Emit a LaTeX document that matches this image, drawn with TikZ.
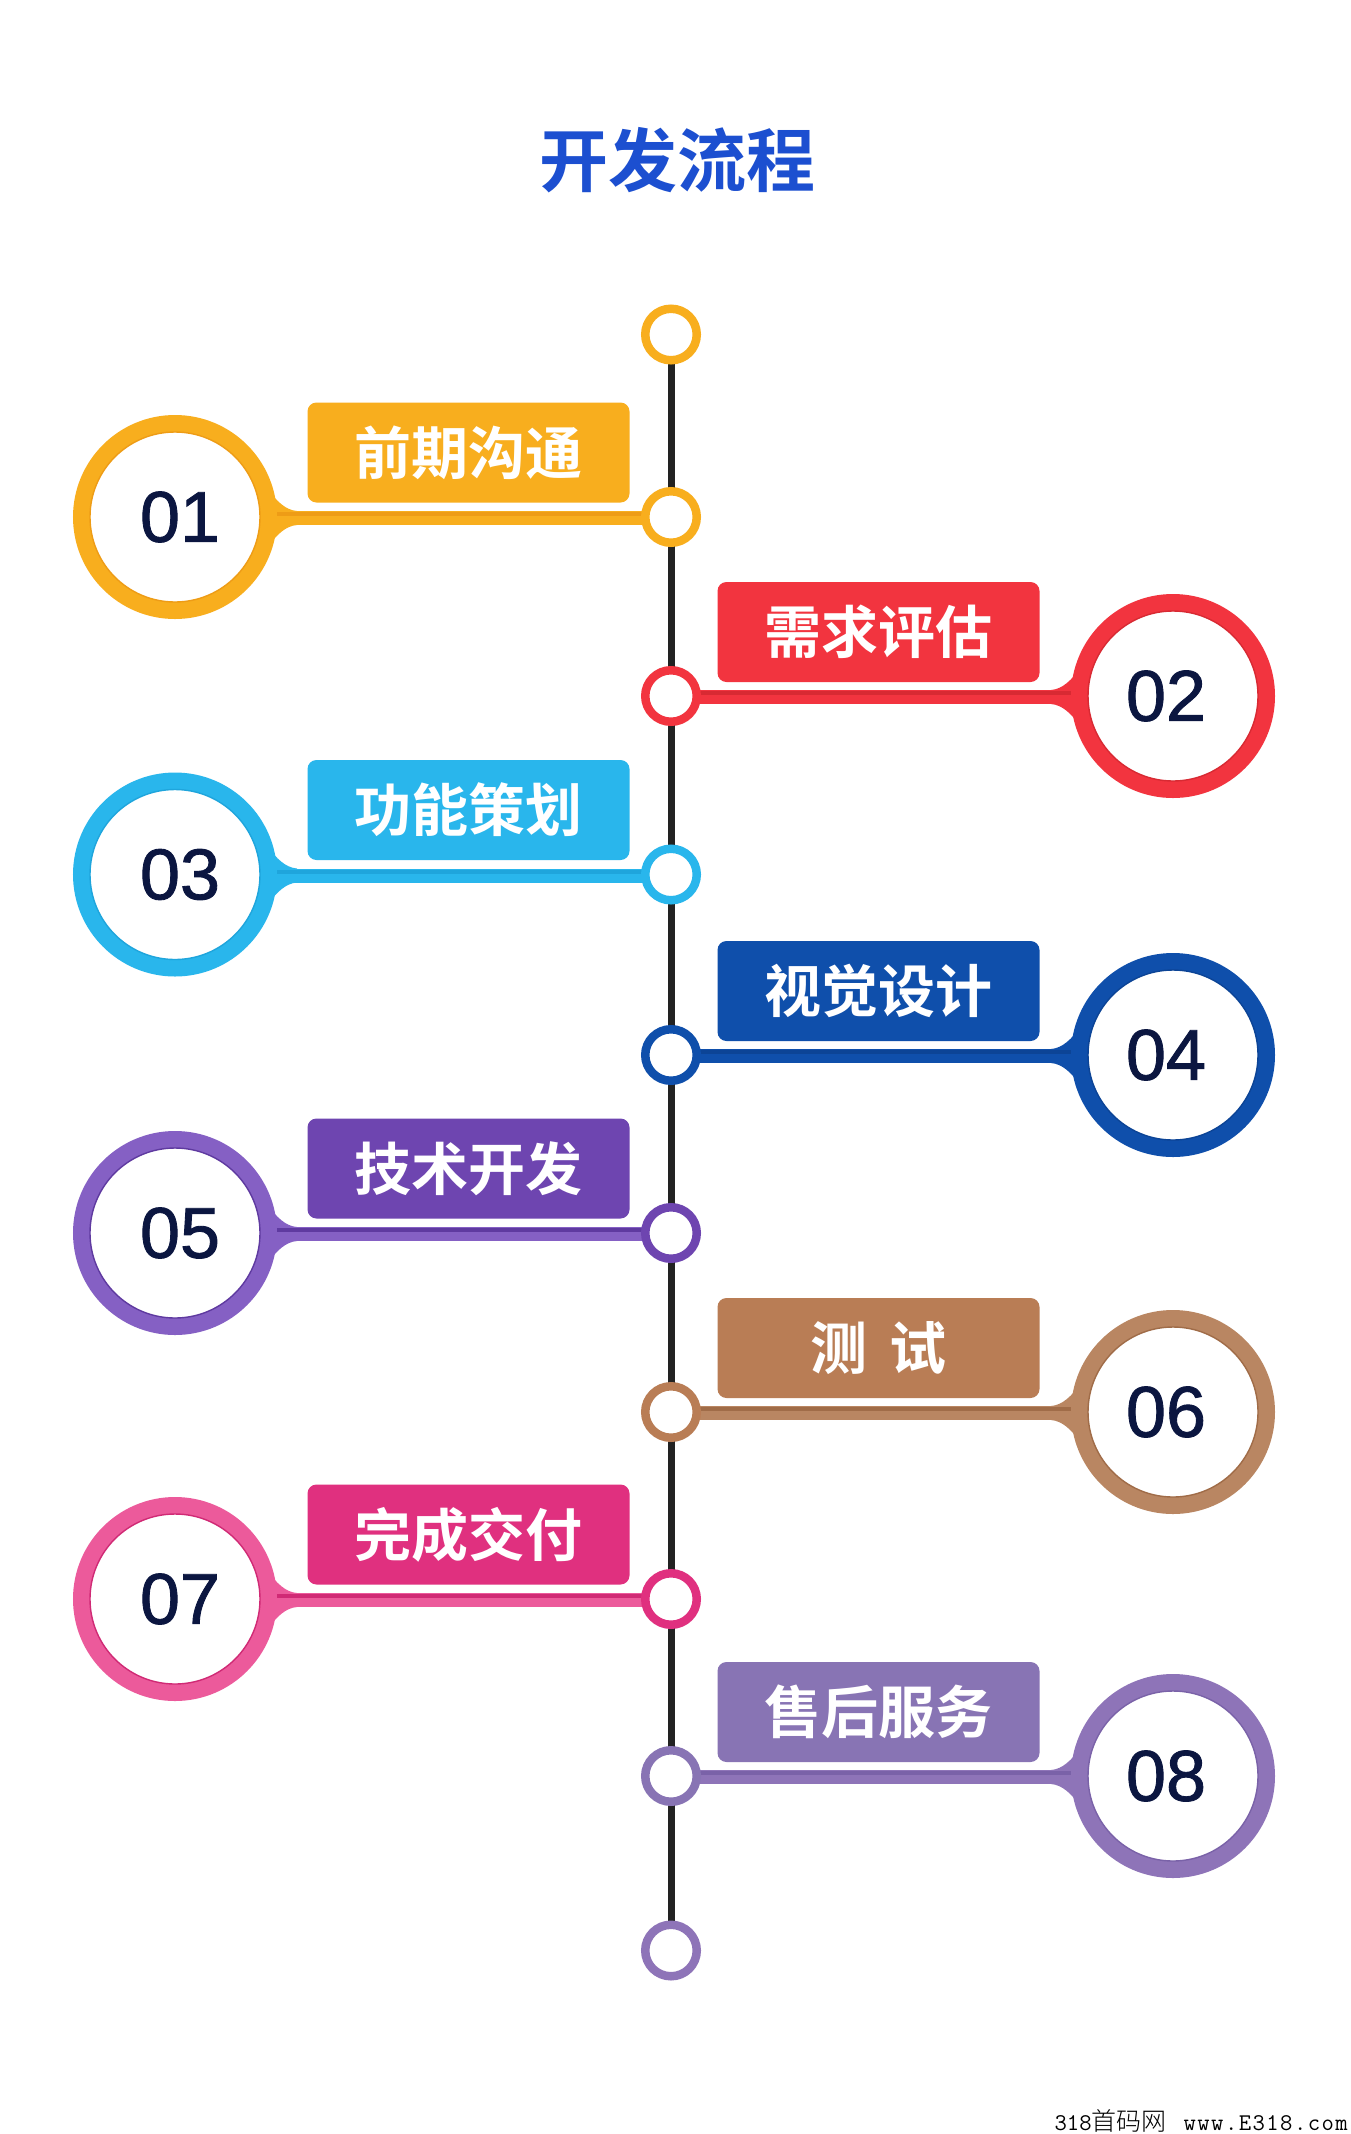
\documentclass[tikz,border=0pt]{standalone}
\usepackage{fontspec}
\usetikzlibrary{backgrounds,calc}
\setmainfont{Liberation Sans}
\newfontfamily\cjkb{Noto Sans CJK SC Bold}
\newfontfamily\cjkthin{Noto Sans CJK SC Light}
\newfontfamily\wmmono{Latin Modern Mono}
\newfontfamily\wmmonospaced[LetterSpace=6]{Latin Modern Mono}
\newfontfamily\numfont[FakeBold=1.2]{Liberation Sans}
\definecolor{cA}{HTML}{F8AE1E}\definecolor{cAd}{HTML}{EE9C16}
\definecolor{cB}{HTML}{F2343F}\definecolor{cBd}{HTML}{D82A33}
\definecolor{cC}{HTML}{29B6EC}\definecolor{cCd}{HTML}{1FA5DC}
\definecolor{cD}{HTML}{0F4FAB}\definecolor{cDd}{HTML}{0C4496}
\definecolor{cE}{HTML}{8560C4}\definecolor{cEl}{HTML}{6E45B0}\definecolor{cEd}{HTML}{5F3AA0}
\definecolor{cF}{HTML}{B98662}\definecolor{cFl}{HTML}{B97D55}\definecolor{cFd}{HTML}{A06C48}
\definecolor{cG}{HTML}{EC5A9B}\definecolor{cGl}{HTML}{E0307F}\definecolor{cGd}{HTML}{D02A75}
\definecolor{cH}{HTML}{8E74B8}\definecolor{cHl}{HTML}{8874B4}\definecolor{cHd}{HTML}{7A62A8}
\definecolor{numink}{HTML}{0B1640}
\definecolor{spineink}{HTML}{222222}
\definecolor{titleblue}{HTML}{1C4FD0}
\tikzset{
  ringnode/.style={circle,draw=#1,line width=17pt,fill=white,minimum size=187pt,inner sep=0pt},
  dotnode/.style={circle,draw=#1,line width=8.5pt,fill=white,minimum size=51.5pt,inner sep=0pt},
  labelbox/.style={rectangle,rounded corners=9pt,fill=#1,minimum width=322pt,minimum height=100pt,inner sep=0pt,text=white},
  labeltext/.style={font=\fontsize{57}{66}\selectfont\cjkb},
  numtext/.style={font=\fontsize{72}{80}\selectfont\numfont,text=numink},
  linkline/.style={line width=14pt,draw=#1},
  linkshade/.style={line width=4pt,draw=#1},
  spine/.style={line width=7pt,draw=spineink}
}
% #1 id, #2 dot node, #3 y, #4 ring, #5 label colour, #6 dark, #7 dot colour, #8 text, #9 number
\newcommand{\leftstage}[9]{%
  \node[dotnode=#7] (#2) at (671,#3) {};
  \node[ringnode=#4] (big#1) at (175,#3) {};
  \draw[#6,line width=1.4pt] (big#1.center) circle (85pt);
  \node[numtext] (num#1) at (180,#3) {#9};
  \node[labelbox=#5,labeltext] (lab#1) at (468.5,#3-64.5) {#8};
  \begin{pgfonlayer}{background}
    \fill[#4] ($(big#1.center)+(92,-28)$) .. controls ($(big#1.center)+(102,-16)$) and ($(big#1.center)+(110,-7)$) .. ($(big#1.center)+(122,-6)$)
      -- ($(big#1.center)+(122,8)$) .. controls ($(big#1.center)+(110,9)$) and ($(big#1.center)+(102,18)$) .. ($(big#1.center)+(92,30)$) -- cycle;
    \draw[linkline=#4] (big#1.center |- 0,#3+1) -- (#2.center |- 0,#3+1);
    \draw[linkshade=#6] (big#1.center |- 0,#3-3) -- (#2.center |- 0,#3-3);
  \end{pgfonlayer}
}
\newcommand{\rightstage}[9]{%
  \node[dotnode=#7] (#2) at (671,#3) {};
  \node[ringnode=#4] (big#1) at (1173,#3) {};
  \draw[#6,line width=1.4pt] (big#1.center) circle (85pt);
  \node[numtext] (num#1) at (1166,#3) {#9};
  \node[labelbox=#5,labeltext] (lab#1) at (878.5,#3-64) {#8};
  \begin{pgfonlayer}{background}
    \fill[#4] ($(big#1.center)+(-92,-28)$) .. controls ($(big#1.center)+(-102,-16)$) and ($(big#1.center)+(-110,-7)$) .. ($(big#1.center)+(-122,-6)$)
      -- ($(big#1.center)+(-122,8)$) .. controls ($(big#1.center)+(-110,9)$) and ($(big#1.center)+(-102,18)$) .. ($(big#1.center)+(-92,30)$) -- cycle;
    \draw[linkline=#4] (#2.center |- 0,#3+1) -- (big#1.center |- 0,#3+1);
    \draw[linkshade=#6] (#2.center |- 0,#3-3) -- (big#1.center |- 0,#3-3);
  \end{pgfonlayer}
}
\begin{document}
\begin{tikzpicture}[x=1pt,y=-1pt]
\useasboundingbox (0,0) rectangle (1350,2134);
\begin{pgfonlayer}{background}
  \fill[white] (0,0) rectangle (1350,2134);
\end{pgfonlayer}
\node[text=titleblue,font=\fontsize{69}{80}\selectfont\cjkb] (title) at (677,160) {开发流程};
\node[dotnode=cA] (top) at (671,334.5) {};
\node[dotnode=cH] (bottom) at (671,1950.5) {};
\begin{pgfonlayer}{background}
  \draw[spine] (top.center) -- (bottom.center);
\end{pgfonlayer}
\leftstage{A}{dotA}{517}{cA}{cA}{cAd}{cA}{前期沟通}{01}
\rightstage{B}{dotB}{696}{cB}{cB}{cBd}{cB}{需求评估}{02}
\leftstage{C}{dotC}{874.5}{cC}{cC}{cCd}{cC}{功能策划}{03}
\rightstage{D}{dotD}{1055}{cD}{cD}{cDd}{cD}{视觉设计}{04}
\leftstage{E}{dotE}{1233}{cE}{cEl}{cEd}{cEl}{技术开发}{05}
\rightstage{F}{dotF}{1412}{cF}{cFl}{cFd}{cFl}{测\hspace{22pt}试\hspace{18pt}}{06}
\leftstage{G}{dotG}{1599}{cG}{cGl}{cGd}{cGl}{完成交付}{07}
\rightstage{H}{dotH}{1776}{cH}{cHl}{cHd}{cHl}{售后服务}{08}
\node[anchor=east,inner sep=0pt,text=black] (mark) at (1348,2121) {\fontsize{24}{26}\selectfont\wmmono 318{\fontsize{25}{26}\selectfont\cjkthin 首码网}\hspace{17pt}\wmmonospaced www.E318.com};
\end{tikzpicture}
\end{document}
